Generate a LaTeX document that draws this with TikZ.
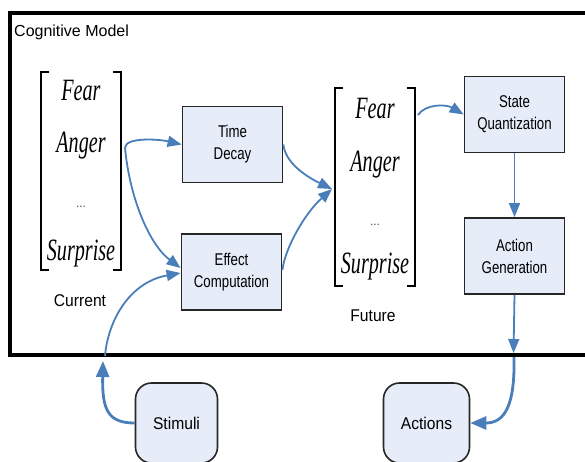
\documentclass[tikz,border=0pt]{standalone}
\usepackage{fontspec}
\setmainfont{Liberation Sans}
\newfontfamily\boxfont[FakeStretch=0.78]{Liberation Sans}
\newfontfamily\lblfont[FakeStretch=0.92]{Liberation Sans}
\newfontfamily\emofont[FakeStretch=0.65]{Liberation Serif}
\usetikzlibrary{arrows.meta}
\definecolor{boxfill}{RGB}{230,236,248}
\definecolor{arrowblue}{RGB}{74,126,187}
\begin{document}
\begin{tikzpicture}[x=1pt,y=-1pt,
  procbox/.style={draw=black!85, line width=1.8pt, fill=boxfill, minimum width=100pt, minimum height=76pt,
    align=center, inner sep=0pt, font=\boxfont\fontsize{17}{22}\selectfont},
  iobox/.style={draw=black!85, line width=1.6pt, fill=boxfill, rounded corners=16pt, minimum height=80pt,
    inner sep=0pt, font=\lblfont\fontsize{17}{18}\selectfont},
  emword/.style={anchor=base, inner sep=0pt, font=\emofont\itshape\fontsize{31}{31}\selectfont},
  dotword/.style={anchor=base, inner sep=0pt, text=black!70, font=\fontsize{12}{12}\selectfont},
  lbl/.style={anchor=base, inner sep=0pt, font=\lblfont\fontsize{17}{18}\selectfont},
  brk/.style={line width=1.1pt, black},
  conn/.style={draw=arrowblue, line width=1.8pt, -{Triangle[length=14pt,width=11pt]}},
  thickconn/.style={draw=arrowblue, line width=2.8pt, -{Triangle[length=16pt,width=13pt]}}
]
\useasboundingbox (0,0) rectangle (585,461);
\clip (0,0) rectangle (585,461);

% outer frame
\draw[line width=4.5pt, line join=miter] (590,13) -- (10,13) -- (10,355) -- (590,355);
\node[anchor=west, inner sep=0pt, font=\fontsize{16}{18}\selectfont] (title) at (14,32) {Cognitive Model};

% current bracket
\draw[brk] (49,72) -- (41,72) -- (41,270) -- (49,270);
\draw[brk] (113,72) -- (121,72) -- (121,270) -- (113,270);
\node[emword] (cfear) at (81,100) {Fear};
\node[emword] (canger) at (81,152) {Anger};
\node[dotword] (cdots) at (81,207) {...};
\node[emword] (csurp) at (81,260) {Surprise};
\node[lbl] (current) at (80,306) {Current};

% future bracket
\draw[brk] (343,88) -- (335,88) -- (335,286) -- (343,286);
\draw[brk] (407,88) -- (415,88) -- (415,286) -- (407,286);
\node[emword] (ffear) at (375,118) {Fear};
\node[emword] (fanger) at (375,171) {Anger};
\node[dotword] (fdots) at (375,225) {...};
\node[emword] (fsurp) at (375,273) {Surprise};
\node[lbl] (future) at (373,321) {Future};

% process boxes
\node[procbox] (td) at (232.5,144.5) {Time\\Decay};
\node[procbox] (ec) at (231.5,272) {Effect\\Computation};
\node[procbox] (sq) at (514.5,114.5) {State\\Quantization};
\node[procbox] (ag) at (514.5,256) {Action\\Generation};

% io boxes
\node[iobox, minimum width=82pt] (stim) at (176.5,423) {Stimuli};
\node[iobox, minimum width=86pt] (act) at (426.5,423) {Actions};

% connector points
\coordinate (curR) at (125,148);
\coordinate (futL) at (332,189);
\coordinate (futR) at (418,115);
\coordinate (frameA) at (513.5,353);
\coordinate (frameB) at (514,357);
\coordinate (frameC) at (103,361);
\coordinate (frameD) at (105,356);

% connectors
\draw[conn] (curR) .. controls (125,137) and (158,139) .. (td.west);
\draw[conn] (curR) .. controls (130,200) and (150,245) .. ([yshift=4pt]ec.west);
\draw[conn] (td.east) .. controls (285,162) and (305,176) .. (futL);
\draw[conn] ([yshift=2pt]ec.east) .. controls (285,248) and (305,213) .. (futL);
\draw[conn] (futR) .. controls (425,104) and (446,104) .. (sq.west);
\draw[conn] (sq.south) -- (ag.north);
\draw[conn] (ag.south) -- (frameA);
\draw[thickconn] (frameB) .. controls (515,405) and (505,423) .. (act.east);
\draw[thickconn] (stim.west) .. controls (108,423) and (102,410) .. (frameC);
\draw[conn] (frameD) .. controls (108,320) and (130,282) .. ([yshift=-1pt]ec.west);
\end{tikzpicture}
\end{document}
